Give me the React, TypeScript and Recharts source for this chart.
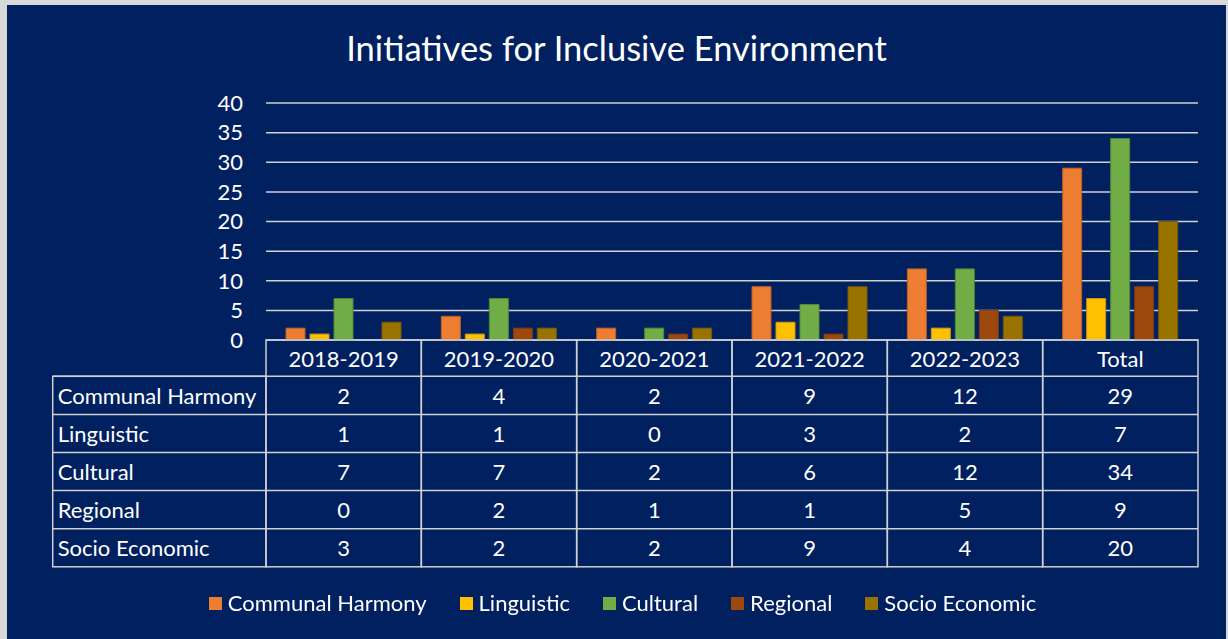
import React from 'react';
import { BarChart, Bar, XAxis, YAxis, CartesianGrid, Legend, Customized } from 'recharts';

const categories = ['2018-2019', '2019-2020', '2020-2021', '2021-2022', '2022-2023', 'Total'];
const communalHarmony = [2, 4, 2, 9, 12, 29];
const linguistic = [1, 1, 0, 3, 2, 7];
const cultural = [7, 7, 2, 6, 12, 34];
const regional = [0, 2, 1, 1, 5, 9];
const socioEconomic = [3, 2, 2, 9, 4, 20];
const yTicks = [0, 5, 10, 15, 20, 25, 30, 35, 40];
const title = 'Initiatives for Inclusive Environment';

const seriesList = [
  { key: 'communalHarmony', name: 'Communal Harmony', values: communalHarmony, color: '#ED7D31', stroke: '#B9612A' },
  { key: 'linguistic', name: 'Linguistic', values: linguistic, color: '#FFC000', stroke: '#C79A12' },
  { key: 'cultural', name: 'Cultural', values: cultural, color: '#70AD47', stroke: '#56873A' },
  { key: 'regional', name: 'Regional', values: regional, color: '#9E480E', stroke: '#7A3A12' },
  { key: 'socioEconomic', name: 'Socio Economic', values: socioEconomic, color: '#997300', stroke: '#765A08' },
];

const data = categories.map((c, i) => {
  const row: any = { category: c };
  seriesList.forEach((s) => {
    row[s.key] = s.values[i];
  });
  return row;
});

const FONT = 'Lato, "Open Sans", sans-serif';
const NAVY = '#002060';
const LINE = '#D0D0D0';
const CHART_W = 1219;
const CHART_H = 634;
const MARGIN = { top: 98, right: 28, left: 219, bottom: 0 };
const Y_W = 40;
const PLOT_W = CHART_W - MARGIN.left - Y_W - MARGIN.right;
const HEADER_H = 36.3;
const ROW_H = 38.1;
const LABEL_COL_W = 213.3;
const FS = 22;

const TableTick = (props: any) => {
  const { x, y, payload, index } = props;
  const n = categories.length;
  const colW = PLOT_W / n;
  const left = x - colW / 2;
  const i = payload && typeof payload.index === 'number' ? payload.index : index;
  const rows = seriesList.length;
  const totalH = HEADER_H + ROW_H * rows;
  const els: any[] = [];
  els.push(
    <rect key="box" x={left} y={y} width={colW} height={totalH} fill="none" stroke={LINE} strokeWidth={1.5} />
  );
  for (let r = 0; r < rows; r++) {
    const ly = y + HEADER_H + r * ROW_H;
    els.push(<line key={'l' + r} x1={left} x2={left + colW} y1={ly} y2={ly} stroke={LINE} strokeWidth={1.5} />);
    els.push(
      <text key={'v' + r} x={x} y={ly + ROW_H / 2} textAnchor="middle" dominantBaseline="central" fill="#fff" fontSize={FS} fontFamily={FONT}>
        {seriesList[r].values[i]}
      </text>
    );
  }
  els.push(
    <text key="h" x={x} y={y + HEADER_H / 2} textAnchor="middle" dominantBaseline="central" fill="#fff" fontSize={FS} fontFamily={FONT}>
      {payload.value}
    </text>
  );
  if (i === 0) {
    const lx = left - LABEL_COL_W;
    els.push(
      <rect key="lbox" x={lx} y={y + HEADER_H} width={LABEL_COL_W} height={ROW_H * rows} fill="none" stroke={LINE} strokeWidth={1.5} />
    );
    for (let r = 0; r < rows; r++) {
      const ly = y + HEADER_H + r * ROW_H;
      els.push(<line key={'ll' + r} x1={lx} x2={left} y1={ly} y2={ly} stroke={LINE} strokeWidth={1.5} />);
      els.push(
        <text key={'n' + r} x={lx + 5} y={ly + ROW_H / 2} textAnchor="start" dominantBaseline="central" fill="#fff" fontSize={FS} fontFamily={FONT}>
          {seriesList[r].name}
        </text>
      );
    }
  }
  return <g>{els}</g>;
};

const LegendContent = (props: any) => {
  const { payload } = props;
  const items = [...(payload || [])].sort(
    (a: any, b: any) =>
      seriesList.findIndex((s) => s.name === a.value) - seriesList.findIndex((s) => s.name === b.value)
  );
  return (
    <div style={{ display: 'flex', justifyContent: 'center', alignItems: 'center', gap: 33, fontFamily: FONT }}>
      {items.map((p: any) => (
        <div key={p.value} style={{ display: 'flex', alignItems: 'center' }}>
          <span style={{ display: 'inline-block', width: 13, height: 13, background: p.color, marginRight: 6 }} />
          <span style={{ color: '#fff', fontSize: FS, lineHeight: '26px' }}>{p.value}</span>
        </div>
      ))}
    </div>
  );
};

const Title = () => (
  <text x={CHART_W / 2} y={56} textAnchor="middle" fill="#fff" fontSize={34.5} fontFamily={FONT}>
    {title}
  </text>
);

export default function App() {
  return (
    <div style={{ position: 'fixed', left: 0, top: 0, width: 1228, height: 639, background: '#D9D9D9' }}>
      <div style={{ position: 'absolute', left: 7, top: 5, width: CHART_W, height: CHART_H, background: NAVY }}>
        <BarChart
          width={CHART_W}
          height={CHART_H}
          data={data}
          margin={MARGIN}
          barCategoryGap={20}
          barGap={5}
        >
          <Customized component={Title} />
          <CartesianGrid vertical={false} stroke={LINE} strokeWidth={1.5} />
          <YAxis
            width={Y_W}
            domain={[0, 40]}
            ticks={yTicks}
            interval={0}
            axisLine={false}
            tickLine={false}
            tickSize={0}
            tickMargin={23}
            tick={{ fill: '#fff', fontSize: FS, fontFamily: FONT }}
          />
          <XAxis
            dataKey="category"
            height={299}
            interval={0}
            axisLine={false}
            tickLine={false}
            tickSize={0}
            tickMargin={0}
            tick={<TableTick />}
          />
          {seriesList.map((s) => (
            <Bar key={s.key} dataKey={s.key} name={s.name} fill={s.color} stroke={s.stroke} strokeWidth={1} isAnimationActive={false} />
          ))}
          <Legend
            layout="horizontal"
            verticalAlign="middle"
            align="center"
            itemSorter={null as any}
            wrapperStyle={{ top: 585, left: 6, width: CHART_W }}
            content={<LegendContent />}
          />
        </BarChart>
      </div>
    </div>
  );
}
